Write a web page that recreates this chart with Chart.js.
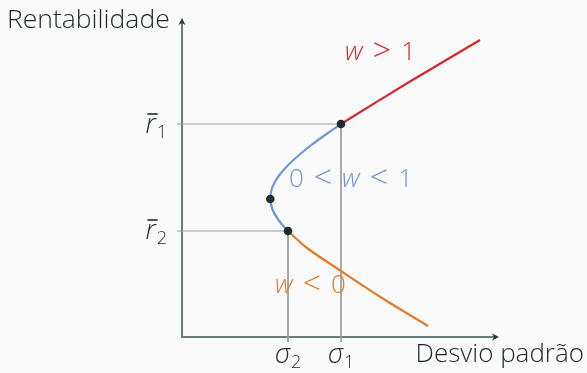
<!DOCTYPE html>
<html>
<head>
<meta charset="utf-8">
<script src="https://cdn.jsdelivr.net/npm/chart.js@4/dist/chart.umd.min.js"></script>
<style>
  body { margin: 0; background: #fafafa; }
  #wrap { width: 587px; height: 373px; }
</style>
</head>
<body>
<div id="wrap"><canvas id="frontier"></canvas></div>
<script>
// two assets: risk (sigma) and expected return (r)
const sigma1 = 15.9;
const sigma2 = 10.6;
const r1 = 21.3;
const r2 = 10.6;

// frontier, split by weight w of asset 1
const blueX = [15.9, 14.59, 13.21, 11.82, 10.62, 9.66, 9.04, 8.83, 9.07, 9.72, 10.6];
const blueY = [21.3, 20.4, 19.4, 18.3, 17.2, 16.1, 15.0, 13.8, 12.7, 11.6, 10.6];
const redX = [15.9, 22.8, 29.8];
const redY = [21.3, 25.55, 29.7];
const orangeX = [10.6, 12.5, 15.9, 20.0, 24.6];
const orangeY = [10.6, 8.9, 6.6, 3.9, 1.1];

// minimum variance portfolio
const minVarX = 8.83;
const minVarY = 13.8;

const RED = "#d7262b";
const BLUE = "#7296d6";
const ORANGE = "#e07c2c";
const INK = "#1f292c";
const AXIS = "#6b7c7c";
const GUIDE = "#9a9e9f";
const FONT = '"Open Sans", sans-serif';

const toPoints = (xs, ys) => xs.map((x, i) => ({ x: x, y: ys[i] }));

// relation signs are set larger, like in math mode
function drawRun(ctx, parts, x, y, color) {
  ctx.fillStyle = color;
  ctx.textBaseline = "alphabetic";
  ctx.textAlign = "left";
  parts.forEach((p) => {
    const op = p.t === "<" || p.t === ">";
    ctx.font = (p.it ? "italic " : "") + "300 " + (op ? 32 : 26) + "px " + FONT;
    ctx.fillText(p.t, x, op ? y + 1 : y);
    x += ctx.measureText(p.t).width + 10;
  });
}

// italic symbol with upright subscript, optional overbar
function mathLabel(ctx, base, sub, x, y, align, bar) {
  ctx.font = "italic 300 27px " + FONT;
  const wb = ctx.measureText(base).width;
  ctx.font = "300 18px " + FONT;
  const ws = ctx.measureText(sub).width;
  const total = wb + 1 + ws;
  let left = x;
  if (align === "center") left = x - total / 2;
  if (align === "right") left = x - total;
  ctx.fillStyle = INK;
  ctx.textAlign = "left";
  ctx.textBaseline = "alphabetic";
  ctx.font = "italic 300 27px " + FONT;
  ctx.fillText(base, left, y);
  if (bar) {
    ctx.strokeStyle = INK;
    ctx.lineWidth = 1.6;
    ctx.beginPath();
    ctx.moveTo(left + 2, y - 19);
    ctx.lineTo(left + wb + 2, y - 19);
    ctx.stroke();
  }
  ctx.font = "300 18px " + FONT;
  ctx.fillText(sub, left + wb + 1, y + 5);
}

const axesPlugin = {
  id: "axesArrows",
  beforeDatasetsDraw(chart) {
    const { ctx, chartArea: a } = chart;
    ctx.save();
    ctx.strokeStyle = AXIS;
    ctx.lineWidth = 2;
    ctx.beginPath();
    ctx.moveTo(a.left, a.top + 2);
    ctx.lineTo(a.left, a.bottom);
    ctx.lineTo(a.right - 3, a.bottom);
    ctx.stroke();
    ctx.fillStyle = "#26383a";
    ctx.beginPath();
    ctx.moveTo(a.left, a.top);
    ctx.lineTo(a.left - 3.5, a.top + 7);
    ctx.lineTo(a.left, a.top + 5);
    ctx.lineTo(a.left + 3.5, a.top + 7);
    ctx.closePath();
    ctx.fill();
    ctx.beginPath();
    ctx.moveTo(a.right, a.bottom);
    ctx.lineTo(a.right - 7, a.bottom - 3.5);
    ctx.lineTo(a.right - 5, a.bottom);
    ctx.lineTo(a.right - 7, a.bottom + 3.5);
    ctx.closePath();
    ctx.fill();
    ctx.restore();
  },
  afterDraw(chart) {
    const { ctx, scales: { x, y } } = chart;
    ctx.save();
    ctx.fillStyle = INK;
    ctx.font = "300 26.5px " + FONT;
    ctx.textBaseline = "alphabetic";
    ctx.textAlign = "left";
    ctx.fillText("Rentabilidade", 7, 28);
    ctx.font = "300 26px " + FONT;
    ctx.textAlign = "right";
    ctx.fillText("Desvio padrão", 584, 362);

    mathLabel(ctx, "σ", "2", x.getPixelForValue(sigma2), 363, "center");
    mathLabel(ctx, "σ", "1", x.getPixelForValue(sigma1), 363, "center");
    mathLabel(ctx, "r", "1", 167, y.getPixelForValue(r1) + 9, "right", true);
    mathLabel(ctx, "r", "2", 167, y.getPixelForValue(r2) + 8, "right", true);

    drawRun(ctx, [{ t: "w", it: true }, { t: ">" }, { t: "1" }], 345, 60, RED);
    drawRun(ctx, [{ t: "0" }, { t: "<" }, { t: "w", it: true }, { t: "<" }, { t: "1" }], 289, 187, BLUE);
    drawRun(ctx, [{ t: "w", it: true }, { t: "<" }, { t: "0" }], 275, 293, ORANGE);
    ctx.restore();
  },
};

const guide = (sx, ry) => ({
  data: [{ x: -0.5, y: ry }, { x: sx, y: ry }, { x: sx, y: -0.5 }],
  borderColor: GUIDE,
  borderWidth: 1,
  pointRadius: 0,
  showLine: true,
  clip: false,
  order: 3,
});

const curve = (xs, ys, color, tension) => ({
  data: toPoints(xs, ys),
  borderColor: color,
  borderWidth: 2.2,
  pointRadius: 0,
  showLine: true,
  tension: tension,
  clip: false,
  order: 2,
});

new Chart(document.getElementById("frontier").getContext("2d"), {
  type: "scatter",
  data: {
    datasets: [
      {
        data: [
          { x: sigma1, y: r1 },
          { x: minVarX, y: minVarY },
          { x: sigma2, y: r2 },
        ],
        pointRadius: 4.3,
        pointBackgroundColor: "#1e2b2c",
        pointBorderWidth: 0,
        showLine: false,
        clip: false,
        order: 0,
      },
      curve(blueX, blueY, BLUE, 0.4),
      curve(redX, redY, RED, 0.3),
      curve(orangeX, orangeY, ORANGE, 0.3),
      guide(sigma1, r1),
      guide(sigma2, r2),
    ],
  },
  options: {
    responsive: true,
    maintainAspectRatio: false,
    animation: false,
    layout: { padding: { left: 182, right: 88, top: 18, bottom: 36 } },
    scales: {
      x: { type: "linear", min: 0, max: 31.7, display: false },
      y: { type: "linear", min: 0, max: 31.9, display: false },
    },
    plugins: {
      legend: { display: false },
      tooltip: { enabled: false },
    },
  },
  plugins: [axesPlugin],
});
</script>
</body>
</html>
